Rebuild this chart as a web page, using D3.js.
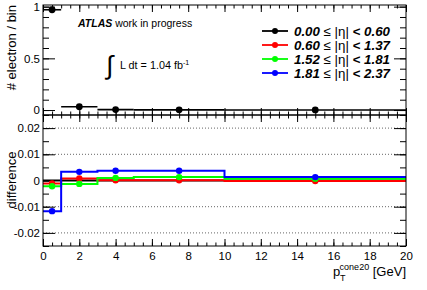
<!DOCTYPE html>
<html>
<head>
<meta charset="utf-8">
<script src="https://cdn.jsdelivr.net/npm/d3@7"></script>
<style>
  body { margin: 0; background: #fff; }
  text { font-family: "Liberation Sans", Arial, sans-serif; }
</style>
</head>
<body>
<div id="chart"></div>
<script>
// bins in pT cone20 [GeV]
const binEdges = [0, 1, 3, 5, 10, 20];
const binCenters = [0.5, 2, 4, 7.5, 15];

// top panel: # electron / bin (0.00 <= |eta| < 0.60)
const topValues = [0.97, 0.032, 0.004, 0.002, 0.001];

// lower panel: difference per eta range
const etaLabels = ["0.00", "0.60", "1.52", "1.81"];
const etaHigh = ["0.60", "1.37", "1.81", "2.37"];
const colors = ["#000000", "#ff0000", "#00ff00", "#0000ff"];
const diffBlack = [0, 0, 0, 0, 0];
const diffRed = [-0.0011, 0.0008, 0.0001, 0.0001, -0.0002];
const diffGreen = [-0.0022, -0.0013, 0.0010, 0.0013, 0.0007];
const diffBlue = [-0.0117, 0.0033, 0.0037, 0.0037, 0.0013];
const diffSeries = [diffBlack, diffRed, diffGreen, diffBlue];

const xMajor = d3.range(0, 21, 2);
const xMinor = d3.range(0, 20.01, 0.5);
const topMajor = [0, 0.5, 1];
const topMinor = d3.range(0, 1.01, 0.1);
const botMajor = [-0.02, -0.01, 0, 0.01, 0.02];
const botMinor = d3.range(-0.025, 0.0251, 0.005);

const width = 427, height = 290;
const left = 43, right = 406;
const topY0 = 5, split = 115, botY1 = 246;

const svg = d3.select("#chart")
  .append("svg")
  .attr("width", width)
  .attr("height", height);

const x = d3.scaleLinear().domain([0, 20]).range([left, right]);
const yTop = d3.scaleLinear().domain([-0.048, 1.016]).range([split, topY0]);
const yBot = d3.scaleLinear().domain([-0.025, 0.025]).range([botY1, split]);

// draw ticks only (no domain line)
function ticks(g, axis, vals, size) {
  g.call(axis.tickValues(vals).tickSize(size).tickFormat(""));
  g.select(".domain").remove();
  g.selectAll("line").attr("stroke", "#000");
}

function labels(g, axis, vals, fmt, pad) {
  g.call(axis.tickValues(vals).tickSize(0).tickPadding(pad).tickFormat(fmt));
  g.select(".domain").remove();
  g.selectAll("text").attr("font-size", "11.5px").attr("fill", "#000")
    .style("font-family", "'Liberation Sans', Arial, sans-serif");
}

// grid lines in lower panel
svg.append("g")
  .selectAll("line")
  .data(botMajor)
  .join("line")
  .attr("x1", left).attr("x2", right)
  .attr("y1", d => yBot(d)).attr("y2", d => yBot(d))
  .attr("stroke", "#666")
  .attr("stroke-width", 1)
  .attr("stroke-dasharray", "1,2");

// ---- top panel axes ----
ticks(svg.append("g").attr("transform", `translate(0,${split})`), d3.axisTop(x), xMajor, 7);
ticks(svg.append("g").attr("transform", `translate(0,${split})`), d3.axisTop(x), xMinor, 3.5);
ticks(svg.append("g").attr("transform", `translate(0,${topY0})`), d3.axisBottom(x), xMajor, 7);
ticks(svg.append("g").attr("transform", `translate(0,${topY0})`), d3.axisBottom(x), xMinor, 3.5);
ticks(svg.append("g").attr("transform", `translate(${left},0)`), d3.axisRight(yTop), topMajor, 12);
ticks(svg.append("g").attr("transform", `translate(${left},0)`), d3.axisRight(yTop), topMinor, 6);
ticks(svg.append("g").attr("transform", `translate(${right},0)`), d3.axisLeft(yTop), topMajor, 12);
ticks(svg.append("g").attr("transform", `translate(${right},0)`), d3.axisLeft(yTop), topMinor, 6);
labels(svg.append("g").attr("transform", `translate(${left},0)`), d3.axisLeft(yTop), topMajor, d => d3.format("")(d), 3);

// ---- lower panel axes ----
ticks(svg.append("g").attr("transform", `translate(0,${botY1})`), d3.axisTop(x), xMajor, 7);
ticks(svg.append("g").attr("transform", `translate(0,${botY1})`), d3.axisTop(x), xMinor, 3.5);
ticks(svg.append("g").attr("transform", `translate(0,${split})`), d3.axisBottom(x), xMajor, 7);
ticks(svg.append("g").attr("transform", `translate(0,${split})`), d3.axisBottom(x), xMinor, 3.5);
ticks(svg.append("g").attr("transform", `translate(${left},0)`), d3.axisRight(yBot), botMajor, 12);
ticks(svg.append("g").attr("transform", `translate(${left},0)`), d3.axisRight(yBot), botMinor, 6);
ticks(svg.append("g").attr("transform", `translate(${right},0)`), d3.axisLeft(yBot), botMajor, 12);
ticks(svg.append("g").attr("transform", `translate(${right},0)`), d3.axisLeft(yBot), botMinor, 6);
labels(svg.append("g").attr("transform", `translate(${left},0)`), d3.axisLeft(yBot), botMajor,
  d => d === 0 ? "0" : d3.format(".2f")(d).replace("−", "-"), 3);
labels(svg.append("g").attr("transform", `translate(0,${botY1})`), d3.axisBottom(x), xMajor, d => d, 6);

// ---- top panel data (black) ----
const gTop = svg.append("g");
gTop.selectAll("line.err")
  .data(topValues)
  .join("line")
  .attr("class", "err")
  .attr("x1", (d, i) => x(binEdges[i]))
  .attr("x2", (d, i) => x(binEdges[i + 1]))
  .attr("y1", d => yTop(d))
  .attr("y2", d => yTop(d))
  .attr("stroke", "#000")
  .attr("stroke-width", 1.6);
gTop.selectAll("circle")
  .data(topValues)
  .join("circle")
  .attr("cx", (d, i) => x(binCenters[i]))
  .attr("cy", d => yTop(d))
  .attr("r", 3.4)
  .attr("fill", "#000");

// ---- lower panel step histograms ----
const step = d3.line()
  .x(d => x(d[0]))
  .y(d => yBot(d[1]))
  .curve(d3.curveStepAfter);

diffSeries.forEach((vals, s) => {
  const pts = vals.map((v, i) => [binEdges[i], v]);
  pts.push([binEdges[binEdges.length - 1], vals[vals.length - 1]]);
  svg.append("path")
    .attr("d", step(pts))
    .attr("fill", "none")
    .attr("stroke", colors[s])
    .attr("stroke-width", 2);
});
diffSeries.forEach((vals, s) => {
  if (s === 0) return;
  svg.append("g").selectAll("circle")
    .data(vals)
    .join("circle")
    .attr("cx", (d, i) => x(binCenters[i]))
    .attr("cy", d => yBot(d))
    .attr("r", 3.2)
    .attr("fill", colors[s]);
});

// frames
svg.append("rect")
  .attr("x", left).attr("y", topY0)
  .attr("width", right - left).attr("height", split - topY0)
  .attr("fill", "none").attr("stroke", "#000");
svg.append("rect")
  .attr("x", left).attr("y", split)
  .attr("width", right - left).attr("height", botY1 - split)
  .attr("fill", "none").attr("stroke", "#000");

// ---- titles ----
svg.append("text")
  .attr("transform", `translate(16,${topY0}) rotate(-90)`)
  .attr("text-anchor", "end")
  .attr("font-size", "13px")
  .text("# electron / bin");
svg.append("text")
  .attr("transform", `translate(16,180) rotate(-90)`)
  .attr("text-anchor", "middle")
  .attr("font-size", "13px")
  .text("difference");

const xt = svg.append("text")
  .attr("x", right)
  .attr("y", 276)
  .attr("text-anchor", "end")
  .attr("font-size", "13px");
xt.append("tspan").text("p");
xt.append("tspan").attr("font-size", "9px").attr("dy", 5).text("T");
xt.append("tspan").attr("font-size", "9px").attr("dx", -5).attr("dy", -11).text("cone20");
xt.append("tspan").attr("dy", 6).text(" [GeV]");

// ATLAS label
const atl = svg.append("text").attr("x", 78).attr("y", 27).attr("font-size", "10.5px");
atl.append("tspan").attr("font-weight", "bold").attr("font-style", "italic").text("ATLAS");
atl.append("tspan").text(" work in progress");

// luminosity
svg.append("text")
  .attr("x", 106).attr("y", 74)
  .attr("font-size", "26px")
  .attr("font-family", "'DejaVu Sans', sans-serif")
  .attr("font-weight", "300")
  .text("∫");
const lum = svg.append("text").attr("x", 120).attr("y", 69).attr("font-size", "10.8px");
lum.append("tspan").text("L dt = 1.04 fb");
lum.append("tspan").attr("font-size", "7px").attr("dy", -4).text("-1");

// legend
const legY = [31, 45, 59, 73];
const leg = svg.append("g");
etaLabels.forEach((lo, i) => {
  leg.append("line")
    .attr("x1", 262).attr("x2", 288)
    .attr("y1", legY[i]).attr("y2", legY[i])
    .attr("stroke", colors[i]).attr("stroke-width", 1.8);
  leg.append("circle")
    .attr("cx", 275).attr("cy", legY[i]).attr("r", 3)
    .attr("fill", colors[i]);
  const t = leg.append("text")
    .attr("x", 294).attr("y", legY[i] + 4.8)
    .attr("font-size", "13.3px");
  t.append("tspan").attr("font-weight", "bold").attr("font-style", "italic").text(lo);
  t.append("tspan").text(" ≤ |η| ");
  t.append("tspan").attr("font-weight", "bold").attr("font-style", "italic").text("< " + etaHigh[i]);
});
</script>
</body>
</html>
